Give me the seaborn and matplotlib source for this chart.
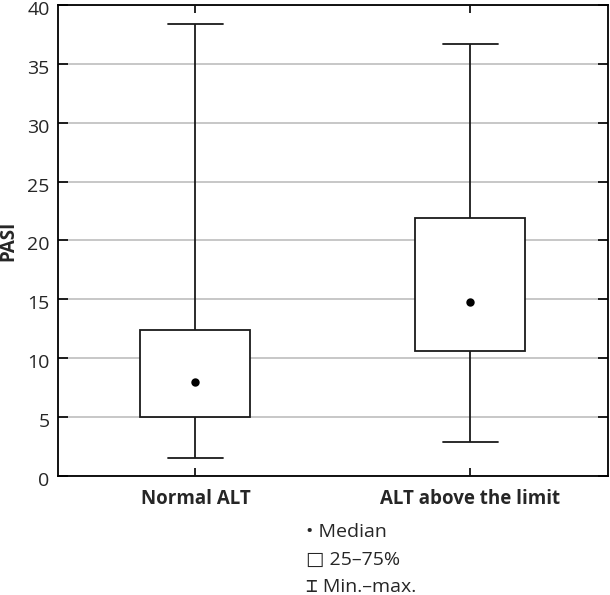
import seaborn as sns
import matplotlib.pyplot as plt
import matplotlib.transforms as mtransforms
import pandas as pd
import numpy as np

# PASI by ALT group: min, Q1, median, Q3, max
groups = ["Normal ALT", "ALT above the limit"]
normal_alt = [1.5, 5.0, 8.0, 12.4, 38.4]
alt_above = [2.9, 10.6, 14.8, 21.9, 36.7]
y_ticks = [0, 5, 10, 15, 20, 25, 30, 35, 40]
legend_lines = ["\u2022 Median", "\u25a1 25\u201375%", "\u2336 Min.\u2013max."]

# with 5 values the quartiles fall exactly on the values themselves
df = pd.DataFrame({
    "group": [groups[0]] * len(normal_alt) + [groups[1]] * len(alt_above),
    "PASI": normal_alt + alt_above,
})

sns.set_style("white")
plt.rcParams['font.family'] = ['Open Sans', 'DejaVu Sans', 'DejaVu Sans Mono']

fig = plt.figure(figsize=(6.1, 5.95), dpi=100)
ax = fig.add_axes([0.095, 0.2, 0.9017, 0.7916])

# box = 25-75%, whiskers = min-max
sns.boxplot(data=df, x="group", y="PASI", whis=(0, 100), width=0.4,
            color="white", saturation=1, linecolor="#1a1a1a", linewidth=1.3,
            fliersize=0, medianprops=dict(visible=False), ax=ax)

# median dot
sns.pointplot(data=df, x="group", y="PASI", estimator="median", errorbar=None,
              linestyle="none", color="black", markersize=4, ax=ax)

ax.set_xlim(-0.5, 1.5)
ax.set_ylim(0, 40)
ax.set_yticks(y_ticks)

ax.yaxis.grid(True, color="#bdbdbd", linewidth=1.2)
ax.set_axisbelow(True)

ax.tick_params(axis='y', direction='in', length=7, width=1.2, left=True, right=True,
               labelsize=14, pad=6, color="black")
ax.tick_params(axis='x', direction='in', length=6, width=1.2, top=True, bottom=True,
               labelsize=13.5, pad=9, color="black")
for lbl in ax.get_xticklabels():
    lbl.set_fontweight('bold')

# y tick labels sit a little below their ticks in the reference
shift = mtransforms.ScaledTranslation(0, -3 / 100, fig.dpi_scale_trans)
for lbl in ax.get_yticklabels():
    lbl.set_transform(lbl.get_transform() + shift)

for sp in ax.spines.values():
    sp.set_visible(True)
    sp.set_color("black")
    sp.set_linewidth(1.3)

ax.set_xlabel("")
ax.set_ylabel("PASI", fontweight="bold", fontsize=13.5, labelpad=6)

# key below the plot
for i, txt in enumerate(legend_lines):
    fig.text(306 / 610, 1 - (532 + 27.5 * i) / 595, txt, fontsize=14, va="center", ha="left")

plt.savefig("out.png", dpi=100)
